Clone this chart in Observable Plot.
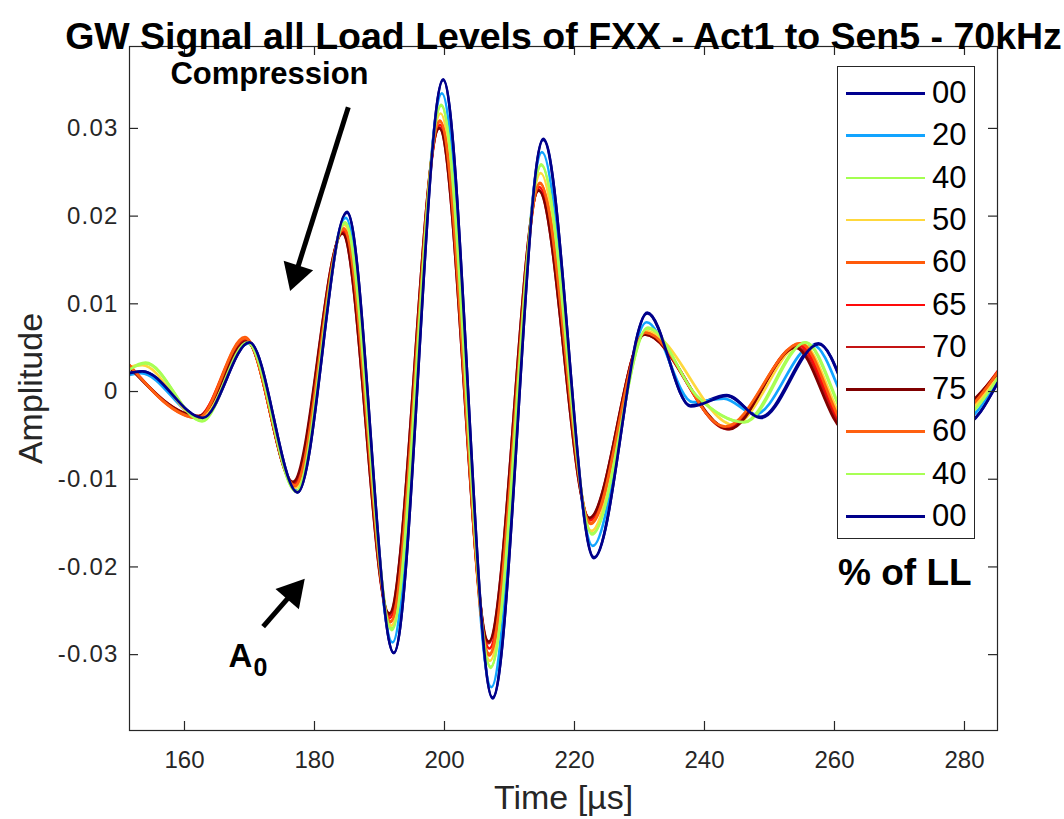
<!DOCTYPE html>
<html><head><meta charset="utf-8">
<script src="https://cdn.jsdelivr.net/npm/d3@7"></script>
<script src="https://cdn.jsdelivr.net/npm/@observablehq/plot@0.6"></script>
<style>
html,body{margin:0;padding:0;background:#fff;}
#wrap{position:relative;width:1064px;height:819px;font-family:"Liberation Sans",Arial,Helvetica,sans-serif;}
#legend{position:absolute;left:837px;top:66px;width:136px;height:471px;border:1px solid #262626;background:#fff;}
.row{position:absolute;left:0;height:42px;width:136px;}
.sw{position:absolute;left:8px;width:79px;height:2.5px;top:20px;}
.lab{position:absolute;left:94px;top:0;line-height:42px;font-size:31px;color:#000;}
#ll{position:absolute;left:838px;top:552px;font-size:37px;font-weight:bold;color:#000;line-height:42px;}
</style></head><body><div id="wrap"></div>
<script>
// ---- data ----
const seriesLabels = ["00","20","40","50","60","65","70","75","60","40","00"];
const seriesColors = ["#00008F","#12A4FF","#A3FF50","#FFD83C","#FF5A0A","#FF0A0A","#C41414","#800000","#FF6010","#A8FF55","#00008A"];

const time_00a = [151.5,153.5,162.8,170.0,177.4,185.0,192.2,199.8,207.4,215.2,223.0,231.2,237.8,243.4,248.6,257.5,265.0,272.5,279.8,285.1];
const amp_00a  = [0.0021,0.0023,-0.0030,0.0056,-0.0115,0.0204,-0.0298,0.0356,-0.0350,0.0288,-0.0190,0.0090,-0.0016,-0.0004,-0.0029,0.0055,-0.0040,0.0020,-0.0038,0.0010];

const time_20 = [151.5,153.3,162.5,169.8,177.3,184.8,192.0,199.6,207.2,215.0,222.8,231.1,238.2,243.0,247.8,256.7,264.2,271.8,279.2,285.1];
const amp_20  = [0.0019,0.0021,-0.0030,0.0055,-0.0113,0.0198,-0.0286,0.0340,-0.0337,0.0273,-0.0176,0.0079,-0.0012,-0.0008,-0.0026,0.0053,-0.0040,0.0020,-0.0036,0.0013];

const time_40a = [151.5,154.0,162.7,169.7,177.2,184.7,191.9,199.5,207.1,214.9,222.7,231.3,238.8,246.0,255.5,263.2,270.8,278.5,285.1];
const amp_40a  = [0.0026,0.0033,-0.0034,0.0056,-0.0114,0.0193,-0.0270,0.0326,-0.0314,0.0258,-0.0162,0.0072,-0.0005,-0.0035,0.0056,-0.0042,0.0020,-0.0034,0.0016];

const time_50 = [151.5,153.5,162.3,169.5,177.1,184.6,191.8,199.4,207.0,214.8,222.6,231.0,244.5,255.0,262.8,270.4,278.0,285.1];
const amp_50  = [0.0028,0.0030,-0.0031,0.0058,-0.0110,0.0190,-0.0267,0.0317,-0.0307,0.0249,-0.0159,0.0069,-0.0038,0.0055,-0.0043,0.0020,-0.0032,0.0018];

const time_60a = [151.5,162.0,169.3,177.0,184.5,191.7,199.3,206.9,214.7,222.5,230.9,243.3,254.7,262.4,270.0,277.6,285.1];
const amp_60a  = [0.0030,-0.0030,0.0062,-0.0108,0.0186,-0.0263,0.0309,-0.0301,0.0238,-0.0151,0.0067,-0.0041,0.0055,-0.0045,0.0020,-0.0030,0.0022];

const time_65 = [151.5,162.0,169.4,176.9,184.4,191.6,199.3,206.9,214.6,222.4,230.8,243.5,254.5,262.2,269.8,277.3,285.1];
const amp_65  = [0.0030,-0.0029,0.0060,-0.0106,0.0183,-0.0258,0.0304,-0.0293,0.0233,-0.0147,0.0066,-0.0042,0.0053,-0.0045,0.0020,-0.0030,0.0023];

const time_70 = [151.5,162.2,169.5,176.8,184.3,191.5,199.2,206.8,214.5,222.3,230.8,243.6,254.2,262.0,269.6,277.0,285.1];
const amp_70  = [0.0029,-0.0028,0.0058,-0.0104,0.0181,-0.0255,0.0301,-0.0287,0.0230,-0.0145,0.0065,-0.0043,0.0051,-0.0045,0.0020,-0.0029,0.0022];

const time_75 = [151.5,162.2,169.6,176.7,184.3,191.5,199.2,206.8,214.5,222.3,230.8,243.8,254.0,261.8,269.4,276.8,285.1];
const amp_75  = [0.0028,-0.0028,0.0057,-0.0103,0.0180,-0.0253,0.0300,-0.0285,0.0229,-0.0144,0.0065,-0.0043,0.0050,-0.0045,0.0020,-0.0028,0.0021];

const time_60b = [151.5,162.1,169.3,177.0,184.5,191.7,199.3,206.9,214.7,222.5,230.9,243.2,254.8,262.5,270.1,277.7,285.1];
const amp_60b  = [0.0030,-0.0030,0.0061,-0.0107,0.0185,-0.0262,0.0308,-0.0299,0.0237,-0.0150,0.0067,-0.0040,0.0055,-0.0044,0.0020,-0.0030,0.0022];

const time_40b = [151.5,154.0,162.6,169.7,177.2,184.7,191.9,199.5,207.1,214.9,222.7,231.3,238.8,246.2,255.6,263.3,270.9,278.6,285.1];
const amp_40b  = [0.0025,0.0032,-0.0033,0.0056,-0.0114,0.0192,-0.0272,0.0327,-0.0315,0.0259,-0.0163,0.0073,-0.0005,-0.0035,0.0056,-0.0042,0.0020,-0.0034,0.0015];

const time_00b = [151.5,153.5,162.8,170.0,177.4,185.0,192.2,199.8,207.4,215.2,223.0,231.2,237.9,243.5,248.7,257.6,265.1,272.6,279.9,285.1];
const amp_00b  = [0.0021,0.0023,-0.0030,0.0056,-0.0115,0.0205,-0.0298,0.0355,-0.0349,0.0287,-0.0189,0.0089,-0.0017,-0.0005,-0.0030,0.0054,-0.0040,0.0020,-0.0038,0.0010];

const seriesTimes = [time_00a,time_20,time_40a,time_50,time_60a,time_65,time_70,time_75,time_60b,time_40b,time_00b];
const seriesAmps  = [amp_00a,amp_20,amp_40a,amp_50,amp_60a,amp_65,amp_70,amp_75,amp_60b,amp_40b,amp_00b];

const xDomain = [151.54, 285.08];
const yDomain = [-0.03865, 0.03934];
const xTicks = [160,180,200,220,240,260,280];
const yTicks = [-0.03,-0.02,-0.01,0,0.01,0.02,0.03];

const titleText = "GW Signal all Load Levels of FXX - Act1 to Sen5 - 70kHz";
const xLabel = "Time [µs]";
const yLabel = "Amplitude";

// annotations (data units)
const arrowX1 = [185.2, 172.1];
const arrowY1 = [0.0324, -0.0268];
const arrowX2 = [177.1, 176.7];
const arrowY2 = [0.0134, -0.0229];
const arrowAngle = [-162, 41];
const noteText = ["Compression", "A", "0"];
const noteX = [173.08, 168.62, 171.7];
const noteY = [0.03615, -0.03015, -0.0315];
const noteSize = [31, 33, 25];

// ---- layout ----
const W = 1064, H = 819, mL = 129, mR = 67, mT = 46, mB = 89;
const fw = W - mL - mR, fh = H - mT - mB;
const axisColor = "#262626";

const lineMarks = seriesTimes.map((ts, i) => {
  const rows = ts.map((t, j) => ({t, a: seriesAmps[i][j]}));
  return Plot.line(rows, {x: "t", y: "a", stroke: seriesColors[i], strokeWidth: 2.7, curve: "monotone-x", clip: true});
});

const arrows = arrowX1.map((d, i) => ({x1: arrowX1[i], y1: arrowY1[i], x2: arrowX2[i], y2: arrowY2[i], angle: arrowAngle[i]}));
const notes = noteText.map((d, i) => ({text: d, x: noteX[i], y: noteY[i], size: noteSize[i]}));

const chart = Plot.plot({
  width: W, height: H,
  marginLeft: mL, marginRight: mR, marginTop: mT, marginBottom: mB,
  x: {domain: xDomain},
  y: {domain: yDomain},
  style: {fontFamily: '"Liberation Sans", Arial, Helvetica, sans-serif', background: "white", overflow: "visible"},
  marks: [
    ...lineMarks,
    Plot.frame({stroke: axisColor, strokeWidth: 1.2}),
    Plot.tickX(xTicks, {x: d => d, stroke: axisColor, strokeWidth: 1.2, insetTop: fh - 9}),
    Plot.tickX(xTicks, {x: d => d, stroke: axisColor, strokeWidth: 1.2, insetBottom: fh - 9}),
    Plot.tickY(yTicks, {y: d => d, stroke: axisColor, strokeWidth: 1.2, insetRight: fw - 9}),
    Plot.tickY(yTicks, {y: d => d, stroke: axisColor, strokeWidth: 1.2, insetLeft: fw - 9}),
    Plot.axisX({ticks: xTicks, tickSize: 0, tickPadding: 20, fontSize: 24, color: axisColor, label: null, tickFormat: d => String(d)}),
    Plot.axisY({ticks: yTicks, tickSize: 0, tickPadding: 11, fontSize: 24, color: axisColor, label: null, tickFormat: d => String(d)}),
    Plot.link(arrows, {x1: "x1", y1: "y1", x2: "x2", y2: "y2", stroke: "black", strokeWidth: 5}),
    Plot.dot(arrows, {x: "x2", y: "y2", symbol: "triangle", r: 11.5, fill: "black", stroke: null, rotate: "angle"}),
    Plot.text(notes, {x: "x", y: "y", text: "text", fontSize: d => d.size, fontWeight: "bold", fill: "black"}),
    Plot.text([titleText], {frameAnchor: "top", dy: -24, fontSize: 37.5, fontWeight: "bold", fill: "black"}),
    Plot.text([xLabel], {frameAnchor: "bottom", dy: 78, fontSize: 34, fill: axisColor}),
    Plot.text([yLabel], {frameAnchor: "left", textAnchor: "middle", dx: -98, rotate: -90, fontSize: 34, fill: axisColor})
  ]
});

// slightly wider y tick labels, as in the reference
d3.select(chart).selectAll('g[aria-label="y-axis tick label"] text').style("letter-spacing", "1.2px");

const wrap = document.getElementById("wrap");
wrap.appendChild(chart);

// legend overlay
const legend = document.createElement("div");
legend.id = "legend";
seriesLabels.forEach((lab, i) => {
  const row = document.createElement("div");
  row.className = "row";
  row.style.top = (5 + 42.3 * i) + "px";
  const sw = document.createElement("div");
  sw.className = "sw";
  sw.style.background = seriesColors[i];
  const tx = document.createElement("div");
  tx.className = "lab";
  tx.textContent = lab;
  row.appendChild(sw); row.appendChild(tx);
  legend.appendChild(row);
});
wrap.appendChild(legend);
const ll = document.createElement("div");
ll.id = "ll";
ll.textContent = "% of LL";
wrap.appendChild(ll);
</script></body></html>
